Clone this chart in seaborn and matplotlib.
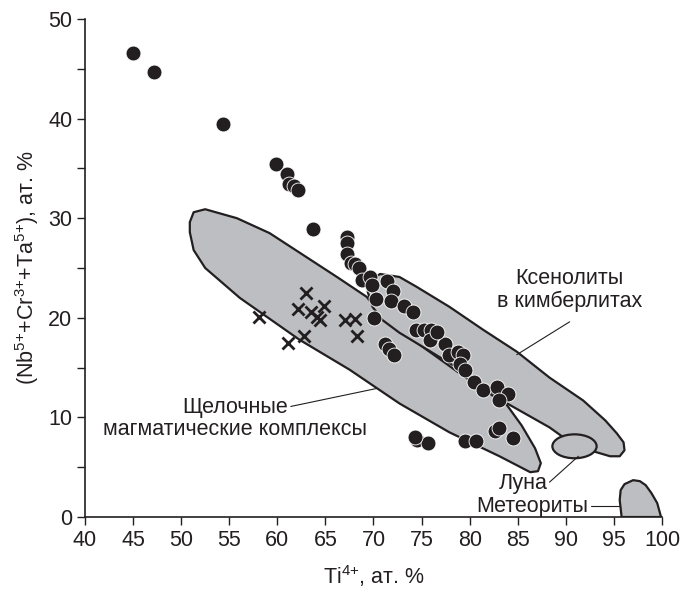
import numpy as np
import pandas as pd
import matplotlib
matplotlib.use("Agg")
import matplotlib.pyplot as plt
from matplotlib.patches import Polygon, Ellipse
import seaborn as sns

# Ti and (Nb+Cr+Ta) contents of analysed grains, at. %
ti_grains = [45.0, 47.2, 54.4, 59.9, 61.0, 61.2, 61.7, 62.1, 63.7, 67.2, 67.2, 67.2,
             67.7, 68.1, 68.5, 68.8, 69.6, 69.8, 71.4, 72.0, 70.3, 71.8, 73.2, 74.1,
             70.1, 74.4, 75.3, 76.0, 75.9, 77.4, 77.9, 71.2, 71.6, 72.1, 76.6, 78.8,
             79.3, 79.0, 79.5, 80.5, 81.4, 82.8, 84.0, 83.1, 82.6, 84.5, 74.5, 75.7,
             79.5, 80.7, 74.3, 83.1]
nb_grains = [46.6, 44.7, 39.5, 35.4, 34.4, 33.4, 33.2, 32.8, 28.9, 28.1, 27.5, 26.4,
             25.5, 25.4, 25.0, 23.8, 24.1, 23.3, 23.7, 22.7, 21.9, 21.7, 21.2, 20.6,
             20.0, 18.8, 18.8, 18.8, 17.8, 17.4, 16.3, 17.4, 16.9, 16.3, 18.6, 16.6,
             16.3, 15.4, 14.8, 13.6, 12.8, 13.1, 12.4, 11.7, 8.6, 7.9, 7.7, 7.4,
             7.6, 7.6, 8.0, 8.9]

# alkaline magmatic complexes
ti_alk = [58.1, 61.1, 62.8, 63.0, 62.1, 63.5, 64.9, 64.4, 64.1, 67.0, 68.1, 68.3]
nb_alk = [20.1, 17.5, 18.2, 22.5, 20.9, 20.6, 21.2, 19.8, 20.1, 19.8, 19.9, 18.2]

# outline of the field of alkaline magmatic complexes
alk_field_ti = [50.9, 51.3, 52.5, 55.8, 59.2, 62.7, 66.2, 69.3, 71.0, 74.8, 79.0, 83.9,
                85.4, 86.8, 87.4, 87.1, 86.3, 83.1, 77.9, 72.7, 67.5, 62.3, 56.1, 52.5,
                51.3, 50.9]
alk_field_nb = [29.6, 30.6, 30.9, 30.0, 28.5, 26.3, 24.1, 22.1, 19.9, 17.3, 14.4, 11.2,
                9.2, 6.9, 5.4, 4.6, 4.5, 6.1, 8.5, 11.4, 14.8, 17.8, 22.0, 25.0,
                26.8, 28.6]

# outline of the field of xenoliths in kimberlites
xen_field_ti = [69.6, 70.7, 72.7, 74.5, 77.9, 81.4, 84.9, 88.3, 91.8, 94.1, 95.3, 96.0,
                96.1, 95.6, 94.6, 93.2, 90.9, 88.3, 83.9, 79.0, 75.1, 72.7, 70.9, 69.9,
                69.4]
xen_field_nb = [23.8, 24.4, 24.1, 23.1, 21.1, 18.8, 16.6, 14.0, 11.7, 9.7, 8.4, 7.5,
                6.7, 6.1, 6.1, 6.5, 7.2, 9.0, 11.4, 14.8, 17.1, 18.5, 19.8, 21.1,
                22.6]

# lunar field (ellipse) and meteorite field
moon_center = (90.9, 7.1)
moon_size = (4.6, 2.4)
met_field_ti = [95.8, 95.6, 95.7, 96.1, 97.0, 97.7, 98.3, 98.9, 99.5, 99.9]
met_field_nb = [0.0, 1.7, 2.7, 3.3, 3.7, 3.6, 3.2, 2.4, 1.4, 0.0]

x_ticks = list(range(40, 101, 5))
y_major = list(range(0, 51, 10))
y_minor = list(range(5, 50, 10))

sns.set_theme(style="ticks")
plt.rcParams["font.family"] = ["Liberation Sans", "DejaVu Sans"]
plt.rcParams["mathtext.fontset"] = "custom"
plt.rcParams["mathtext.rm"] = "Liberation Sans"
plt.rcParams["mathtext.it"] = "Liberation Sans"

INK = "#231f20"
FILL = "#bdbec1"
FS = 15.5

fig = plt.figure(figsize=(6.82, 5.90), dpi=100)
ax = fig.add_axes([0.1246, 0.1237, 0.8461, 0.8441])

ax.add_patch(Polygon(np.column_stack([alk_field_ti, alk_field_nb]), closed=True,
                     facecolor=FILL, edgecolor=INK, lw=1.6, joinstyle="round", zorder=1))
ax.add_patch(Polygon(np.column_stack([xen_field_ti, xen_field_nb]), closed=True,
                     facecolor=FILL, edgecolor=INK, lw=1.6, joinstyle="round", zorder=2))
ax.add_patch(Ellipse(moon_center, moon_size[0], moon_size[1], facecolor=FILL,
                     edgecolor=INK, lw=1.6, zorder=3))
ax.add_patch(Polygon(np.column_stack([met_field_ti, met_field_nb]), closed=True,
                     facecolor=FILL, edgecolor=INK, lw=1.6, joinstyle="round", zorder=3))

alk = pd.DataFrame({"ti": ti_alk, "nb": nb_alk})
grains = pd.DataFrame({"ti": ti_grains, "nb": nb_grains})
sns.scatterplot(data=alk, x="ti", y="nb", marker="x", s=75, color=INK,
                linewidth=2.0, ax=ax, zorder=4)
sns.scatterplot(data=grains, x="ti", y="nb", marker="o", s=115, color=INK,
                edgecolor="white", linewidth=0.6, ax=ax, zorder=5)

ax.set_xlim(40, 100)
ax.set_ylim(0, 50)
ax.set_xticks(x_ticks)
ax.set_xticklabels([str(t) for t in x_ticks])
ax.set_yticks(y_major)
ax.set_yticks(y_minor, minor=True)
ax.tick_params(axis="both", which="both", direction="out", length=6, width=1.0,
               color=INK, labelsize=FS, labelcolor=INK, pad=3)
sns.despine(ax=ax)
for side in ("left", "bottom"):
    ax.spines[side].set_linewidth(1.2)
    ax.spines[side].set_color(INK)

ax.set_xlabel(r"Ti$^{4{+}}$, ат. %", fontsize=FS, color=INK, labelpad=9)
ax.set_ylabel(r"(Nb$^{5{+}}$+Cr$^{3{+}}$+Ta$^{5{+}}$), ат. %", fontsize=FS, color=INK,
              labelpad=5)

lbl = dict(fontsize=FS, color=INK, zorder=6)
ax.text(90.4, 22.8, "Ксенолиты\nв кимберлитах", ha="center", va="center",
        linespacing=1.15, **lbl)
ax.plot([90.4, 84.9], [19.6, 16.3], color=INK, lw=0.8, zorder=6)
ax.text(55.6, 9.9, "Щелочные\nмагматические комплексы", ha="center", va="center",
        linespacing=1.1, **lbl)
ax.plot([61.4, 70.3], [11.1, 12.9], color=INK, lw=0.8, zorder=6)
ax.text(88.1, 3.4, "Луна", ha="right", va="center", **lbl)
ax.plot([88.3, 91.3], [3.5, 6.1], color=INK, lw=0.8, zorder=6)
ax.text(92.3, 1.1, "Метеориты", ha="right", va="center", **lbl)
ax.plot([92.6, 95.6], [1.1, 1.1], color=INK, lw=0.8, zorder=6)

fig.savefig("out.png", dpi=100)
